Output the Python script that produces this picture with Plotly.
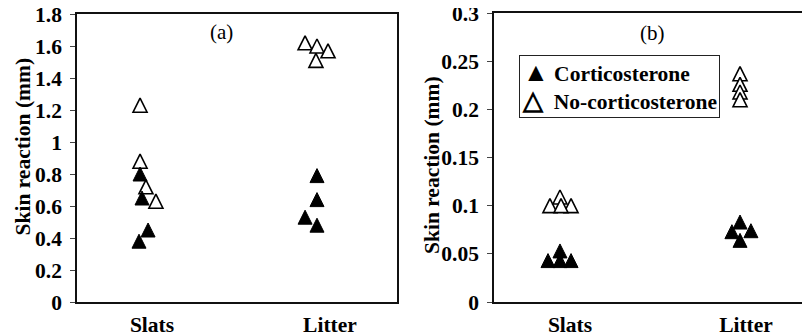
import plotly.graph_objects as go

# ---------------- data ----------------
categories = ["Slats", "Litter"]
category_positions = [1, 2]

# Panel (a) values (mm)
a_cort_slats = [0.80, 0.65, 0.45, 0.38]
a_cort_litter = [0.79, 0.64, 0.53, 0.48]
a_nocort_slats = [1.23, 0.88, 0.72, 0.63]
a_nocort_litter = [1.62, 1.60, 1.57, 1.51]

# Panel (a) horizontal jitter within category (category units)
a_cort_slats_jit = [-0.067, -0.056, -0.022, -0.073]
a_cort_litter_jit = [-0.073, -0.073, -0.14, -0.073]
a_nocort_slats_jit = [-0.067, -0.067, -0.034, 0.022]
a_nocort_litter_jit = [-0.14, -0.073, -0.011, -0.079]

# Panel (b) values (mm)
b_cort_slats = [0.043, 0.053, 0.043, 0.043]
b_cort_litter = [0.083, 0.073, 0.074, 0.064]
b_nocort_slats = [0.100, 0.109, 0.100, 0.100]
b_nocort_litter = [0.237, 0.226, 0.218, 0.210]

# Panel (b) horizontal jitter within category (category units)
b_cort_slats_jit = [-0.125, -0.057, -0.057, 0.006]
b_cort_litter_jit = [-0.034, -0.080, 0.028, -0.034]
b_nocort_slats_jit = [-0.114, -0.057, 0.006, -0.051]
b_nocort_litter_jit = [-0.034, -0.034, -0.034, -0.034]

a_tickvals = [0, 0.2, 0.4, 0.6, 0.8, 1.0, 1.2, 1.4, 1.6, 1.8]
a_ticktext = ["0", "0.2", "0.4", "0.6", "0.8", "1", "1.2", "1.4", "1.6", "1.8"]
b_tickvals = [0, 0.05, 0.1, 0.15, 0.2, 0.25, 0.3]
b_ticktext = ["0", "0.05", "0.1", "0.15", "0.2", "0.25", "0.3"]

series_names = ["Corticosterone", "No-corticosterone"]
y_title = "Skin reaction (mm)"

# ---------------- figure ----------------
OFF = 8  # page body margin in the browser
W, H = 810 - OFF, 334 - OFF
FONT = "Liberation Serif, Times New Roman, serif"
FS = 21.5
MS = 14  # marker size


def px_x(p):
    return (p - OFF) / W


def px_y(p):
    return 1 - (p - OFF) / H


def xs(cat_index, jitter):
    return [category_positions[cat_index] + j for j in jitter]


def add_points(fig, x, y, filled, xa, ya, name):
    fig.add_trace(go.Scatter(
        x=x, y=y, mode="markers", name=name, showlegend=False,
        xaxis=xa, yaxis=ya,
        marker=dict(
            symbol="arrow-down", angle=180, standoff=MS / 2, size=MS,
            color="black" if filled else "white",
            line=dict(color="black", width=1 if filled else 1.6),
        ),
        hoverinfo="x+y",
    ))


fig = go.Figure()

# panel a: open first, then filled
add_points(fig, xs(0, a_nocort_slats_jit), a_nocort_slats, False, "x", "y", series_names[1])
add_points(fig, xs(1, a_nocort_litter_jit), a_nocort_litter, False, "x", "y", series_names[1])
add_points(fig, xs(0, a_cort_slats_jit), a_cort_slats, True, "x", "y", series_names[0])
add_points(fig, xs(1, a_cort_litter_jit), a_cort_litter, True, "x", "y", series_names[0])

# panel b
add_points(fig, xs(0, b_nocort_slats_jit), b_nocort_slats, False, "x2", "y2", series_names[1])
add_points(fig, xs(1, b_nocort_litter_jit), b_nocort_litter, False, "x2", "y2", series_names[1])
add_points(fig, xs(0, b_cort_slats_jit), b_cort_slats, True, "x2", "y2", series_names[0])
add_points(fig, xs(1, b_cort_litter_jit), b_cort_litter, True, "x2", "y2", series_names[0])

axis_line = dict(showline=True, linecolor="#111", linewidth=1.5, showgrid=False,
                 zeroline=False, automargin=False, ticklabeloverflow="allow")
tickfont = dict(family=FONT, size=FS, color="black")

legend_text = (
    "<b><span style='font-size:26px'>▲</span> %s<br>"
    "<span style='font-size:26px'>△</span>  %s</b>" % (series_names[0], series_names[1])
)

fig.update_layout(
    template="none",
    width=W, height=H,
    margin=dict(l=0, r=0, t=0, b=0, pad=0, autoexpand=False),
    paper_bgcolor="white", plot_bgcolor="white",
    font=dict(family=FONT, color="black"),
    showlegend=False,
    xaxis=dict(domain=[px_x(77), px_x(397)], range=[0.5787, 2.3765],
               tickvals=category_positions, ticktext=["<b>%s</b>" % c for c in categories],
               ticks="", tickfont=tickfont, ticklabelstandoff=2, mirror=True, anchor="y",
               **axis_line),
    yaxis=dict(domain=[px_y(302), px_y(14)], range=[0, 1.8],
               tickvals=a_tickvals, ticktext=["<b>%s</b>" % t for t in a_ticktext],
               ticks="outside", ticklen=5, tickcolor="#444", tickwidth=1,
               tickfont=tickfont, ticklabelstandoff=4, mirror=True, anchor="x",
               **axis_line),
    xaxis2=dict(domain=[px_x(494), 1.0], range=[0.5682, 2.3636],
                tickvals=category_positions, ticktext=["<b>%s</b>" % c for c in categories],
                ticks="", tickfont=tickfont, ticklabelstandoff=2, mirror=True, anchor="y2",
                **axis_line),
    yaxis2=dict(domain=[px_y(302), px_y(13)], range=[0, 0.3],
                tickvals=b_tickvals, ticktext=["<b>%s</b>" % t for t in b_ticktext],
                ticks="outside", ticklen=5, tickcolor="#444", tickwidth=1,
                tickfont=tickfont, ticklabelstandoff=4, mirror=False, anchor="x2",
                **axis_line),
    annotations=[
        dict(text="<b>%s</b>" % y_title, textangle=-90, xref="paper", yref="paper",
             x=px_x(22.5), y=px_y(147), xanchor="center", yanchor="middle",
             showarrow=False, font=dict(family=FONT, size=FS, color="black")),
        dict(text="<b>%s</b>" % y_title, textangle=-90, xref="paper", yref="paper",
             x=px_x(432), y=px_y(165), xanchor="center", yanchor="middle",
             showarrow=False, font=dict(family=FONT, size=FS, color="black")),
        dict(text="(a)", xref="paper", yref="paper", x=px_x(221), y=px_y(32),
             xanchor="center", yanchor="middle", showarrow=False,
             font=dict(family=FONT, size=21, color="black")),
        dict(text="(b)", xref="paper", yref="paper", x=px_x(652), y=px_y(33),
             xanchor="center", yanchor="middle", showarrow=False,
             font=dict(family=FONT, size=21, color="black")),
        dict(text=legend_text,
             xref="paper", yref="paper", x=px_x(519), y=px_y(55),
             xanchor="left", yanchor="top", align="left", showarrow=False,
             bordercolor="#222", borderwidth=1, borderpad=2, bgcolor="white",
             font=dict(family=FONT, size=FS, color="black")),
    ],
)

fig.write_html("out.html")
